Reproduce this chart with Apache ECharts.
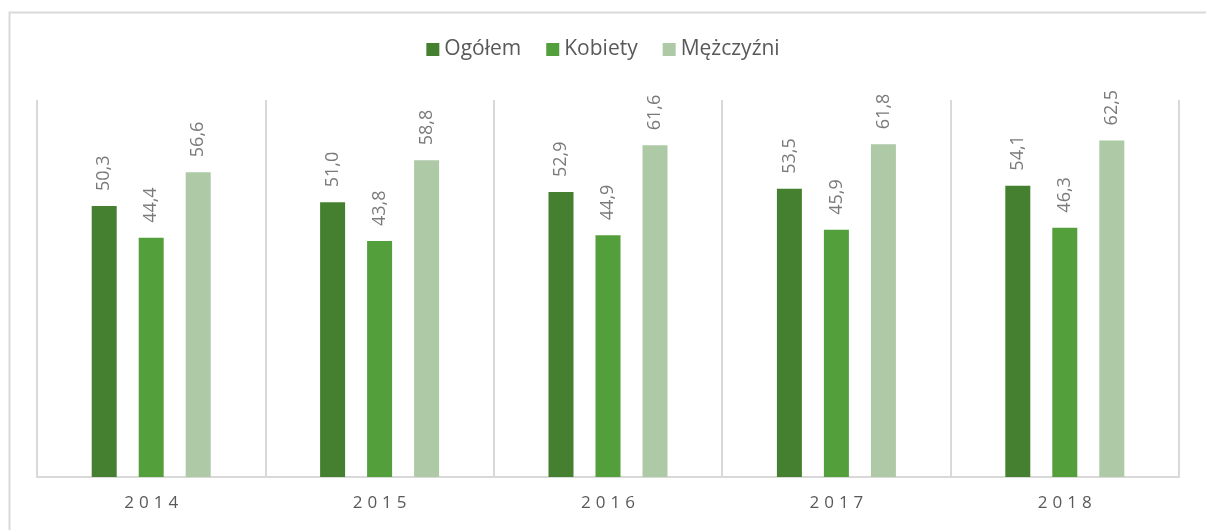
<!DOCTYPE html>
<html>
<head>
<meta charset="utf-8">
<script src="https://cdn.jsdelivr.net/npm/echarts@6/dist/echarts.min.js"></script>
<style>
html,body{margin:0;padding:0;background:#fff;}
#c{width:1206px;height:530px;}
</style>
</head>
<body>
<div id="c"></div>
<script>
var categories = ['2014', '2015', '2016', '2017', '2018'];
var ogolem = [50.3, 51.0, 52.9, 53.5, 54.1];
var kobiety = [44.4, 43.8, 44.9, 45.9, 46.3];
var mezczyzni = [56.6, 58.8, 61.6, 61.8, 62.5];
var seriesNames = ['Ogółem', 'Kobiety', 'Mężczyźni'];
var colors = ['#44802f', '#539f3b', '#adc9a6'];

var chart = echarts.init(document.getElementById('c'));
var font = '"Open Sans", "Noto Sans", sans-serif';
function fmt(p){ return p.value.toFixed(1).replace('.', ','); }
function spaced(v){ return v.split('').map(function(ch){ return '{d|' + ch + '}'; }).join(''); }
function mk(name, data, color){
  return {
    name: name, type: 'bar', data: data,
    itemStyle: {color: color},
    barWidth: 25,
    barGap: '88%',
    label: {
      show: true, position: 'top', rotate: 90, align: 'left', verticalAlign: 'middle',
      distance: 15, formatter: fmt, color: '#7a7a7a', fontSize: 18, fontFamily: font
    }
  };
}
chart.setOption({
  animation: false,
  backgroundColor: '#fff',
  color: colors,
  graphic: [{
    type: 'rect', left: 7, top: 10, shape: {width: 1300, height: 600},
    style: {fill: 'none', stroke: '#d9d9d9', lineWidth: 2}, z: -1
  }],
  legend: {
    top: 34, left: 'center',
    itemWidth: 13, itemHeight: 13, itemGap: 25,
    icon: 'rect',
    textStyle: {color: '#595959', fontSize: 21, fontFamily: font},
    data: seriesNames
  },
  grid: {left: 37, right: 27, top: 100, bottom: 53},
  xAxis: {
    type: 'category', data: categories,
    axisLine: {show: true, lineStyle: {color: '#d9d9d9', width: 2}},
    axisTick: {show: false},
    splitLine: {show: true, lineStyle: {color: '#d9d9d9', width: 2}},
    axisLabel: {
      margin: 18, formatter: spaced,
      rich: {d: {color: '#595959', fontSize: 17, fontFamily: font, padding: [0, 2.5]}}
    }
  },
  yAxis: {
    type: 'value', min: 0, max: 70,
    axisLine: {show: false}, axisTick: {show: false},
    axisLabel: {show: false}, splitLine: {show: false}
  },
  series: [mk(seriesNames[0], ogolem, colors[0]), mk(seriesNames[1], kobiety, colors[1]), mk(seriesNames[2], mezczyzni, colors[2])]
});
</script>
</body>
</html>
